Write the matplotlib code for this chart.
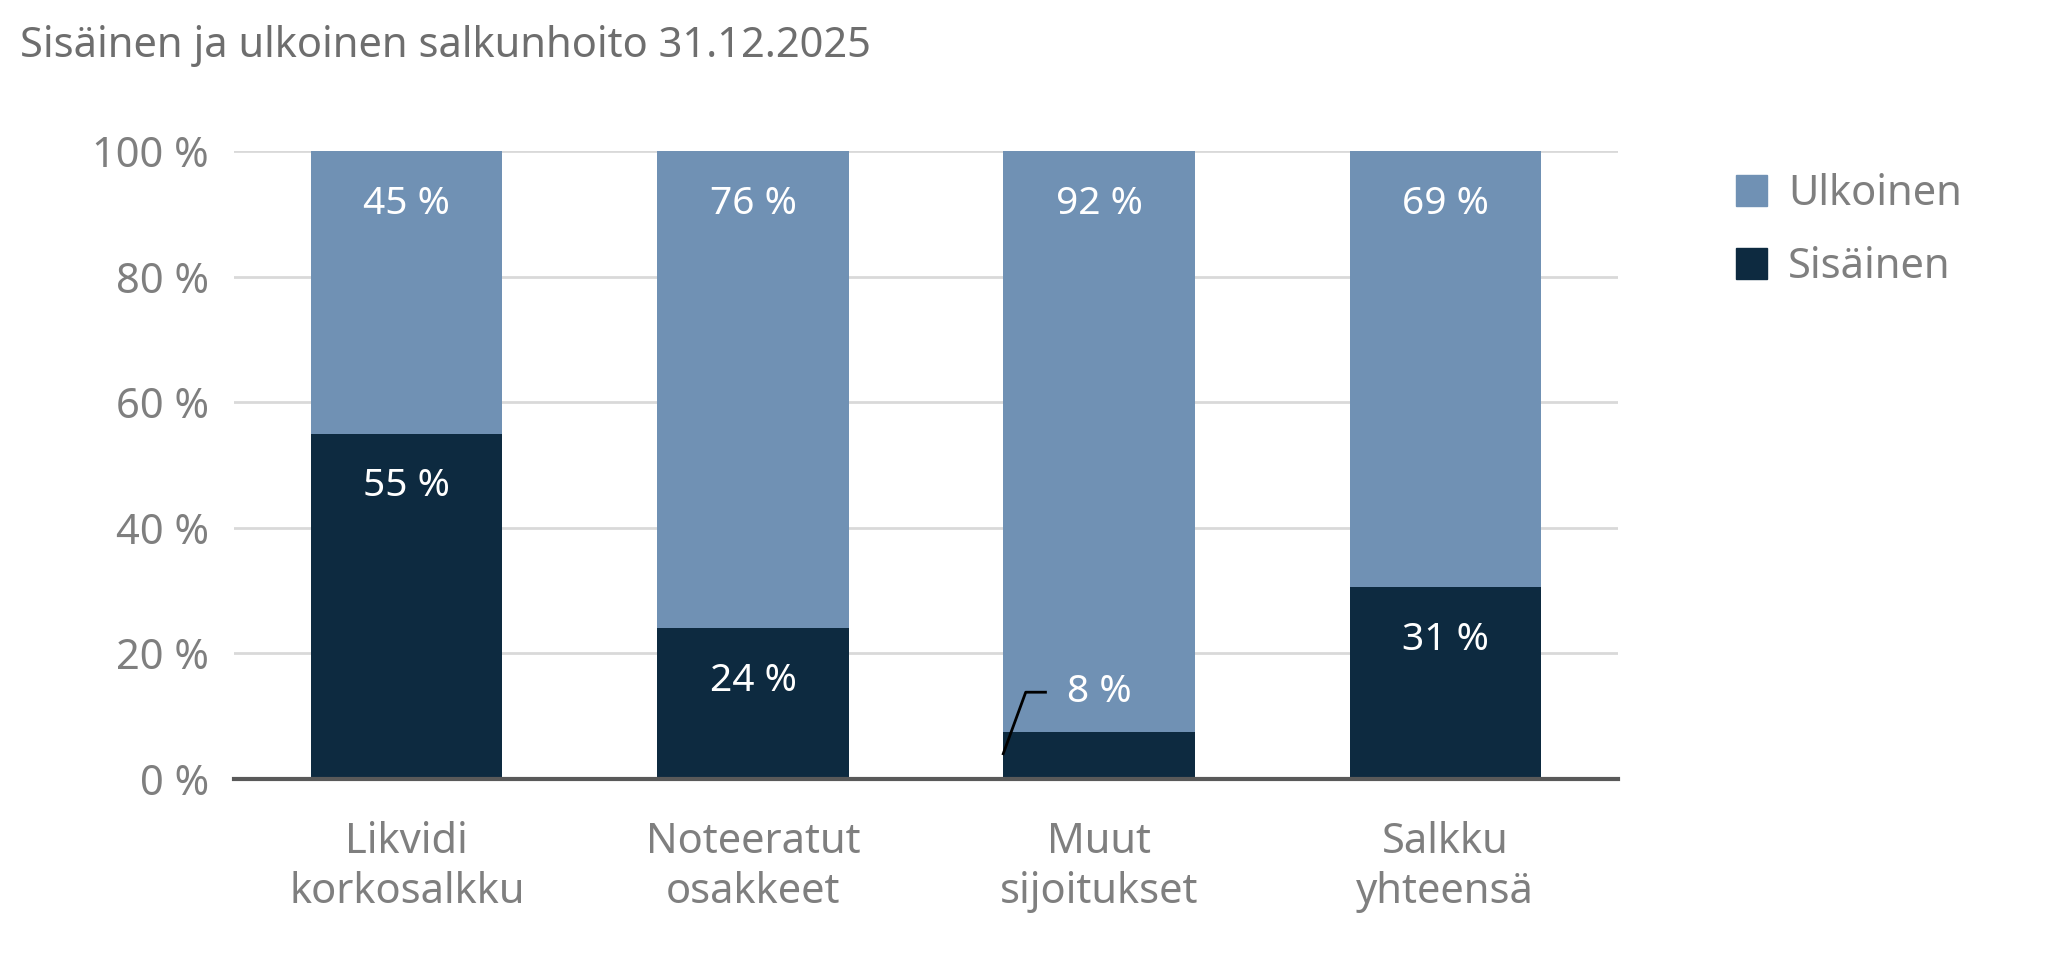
import matplotlib.pyplot as plt
from matplotlib.patches import Patch

categories = ["Likvidi\nkorkosalkku", "Noteeratut\nosakkeet", "Muut\nsijoitukset", "Salkku\nyhteensä"]
sisainen = [55, 24, 8, 31]
ulkoinen = [45, 76, 92, 69]
sisainen_bar = [55, 24, 7.5, 30.5]

light = "#7091b4"
dark = "#0d2a40"
grey = "#7f7f7f"

plt.rcParams["font.family"] = ["Noto Sans", "DejaVu Sans"]
fig = plt.figure(figsize=(20.59, 9.68), dpi=100)
ax = fig.add_axes([0.1135, 0.1954, 0.6725, 0.6486])

x = list(range(len(categories)))
ax.bar(x, sisainen_bar, width=0.553, color=dark, zorder=3)
ax.bar(x, [100 - s for s in sisainen_bar], bottom=sisainen_bar, width=0.553, color=light, zorder=3)

for i in x:
    ax.text(i, 100 - 8.4, f"{ulkoinen[i]} %", ha="center", va="center", color="white", fontsize=28, zorder=4)
    if i != 2:
        ax.text(i, sisainen_bar[i] - 8.4, f"{sisainen[i]} %", ha="center", va="center", color="white", fontsize=28, zorder=4)

# leader line for small segment
ax.plot([2 - 0.277, 2 - 0.212, 2 - 0.155], [4, 13.8, 13.8], color="black", lw=2, zorder=5)
ax.text(2, 13.8, f"{sisainen[2]} %", ha="center", va="center", color="white", fontsize=28, zorder=5)

ax.set_xlim(-0.5, 3.5)
ax.set_ylim(0, 100)
ax.set_yticks(range(0, 101, 20))
ax.set_yticklabels([f"{v} %" for v in range(0, 101, 20)])
ax.set_xticks(x)
ax.set_xticklabels(categories, linespacing=1.25)
ax.tick_params(axis="both", length=0, labelsize=30, colors=grey)
ax.tick_params(axis="x", pad=30)
ax.tick_params(axis="y", pad=18)
ax.grid(axis="y", color="#d9d9d9", lw=2, zorder=0)
for s in ["top", "right", "left"]:
    ax.spines[s].set_visible(False)
ax.spines["bottom"].set_color("#595959")
ax.spines["bottom"].set_linewidth(3)
ax.spines["bottom"].set_zorder(6)

fig.text(0.0095, 0.952, "Sisäinen ja ulkoinen salkunhoito 31.12.2025", fontsize=30,
         fontweight="bold", color="#6e6e6e", va="center")

handles = [Patch(color=light, label="Ulkoinen"), Patch(color=dark, label="Sisäinen")]
fig.legend(handles=handles, loc="upper left", bbox_to_anchor=(0.825, 0.86), frameon=False,
           fontsize=30, labelcolor=grey, handlelength=0.75, handleheight=0.75,
           labelspacing=0.75, handletextpad=0.5)

fig.savefig("out.png", dpi=100)
